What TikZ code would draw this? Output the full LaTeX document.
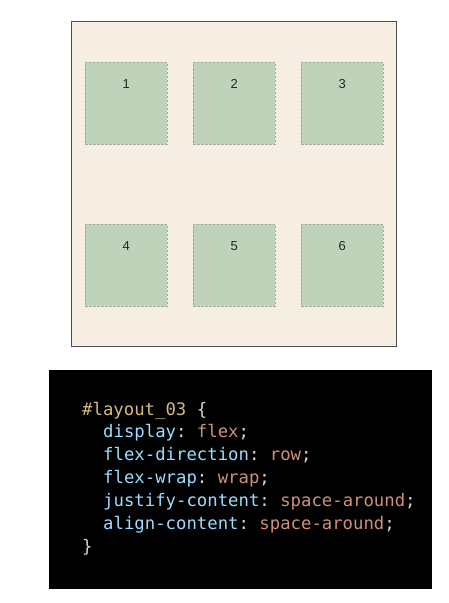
\documentclass[tikz,border=0pt]{standalone}
\usepackage{fontspec}
\setmainfont{Liberation Sans}
\newfontfamily\codefont{DejaVu Sans Mono}
\usetikzlibrary{positioning}
\definecolor{pagecolor}  {RGB}{246, 237, 227}
\definecolor{cellcolor}  {RGB}{191, 211, 186}
\definecolor{celledge}   {RGB}{160, 172, 155}
\definecolor{framecolor} {RGB}{ 80,  80,  80}
\definecolor{selcolor}   {RGB}{215, 186, 125}
\definecolor{propcolor}  {RGB}{156, 220, 254}
\definecolor{valcolor}   {RGB}{206, 145, 120}
\definecolor{punccolor}  {RGB}{212, 212, 212}
\newcommand{\cprop}[1]{\textcolor{propcolor}{#1}}
\newcommand{\cval}[1]{\textcolor{valcolor}{#1}}
\frenchspacing
\tikzset{
	container/.style={
		draw=framecolor, fill=pagecolor, line width=1pt
	},
	cellbox/.style={
		rectangle, anchor=north west, inner sep=0pt,
		minimum width=82pt, minimum height=82pt,
		fill=cellcolor, draw=celledge, line width=0.7pt,
		dash pattern=on 2.5pt off 1.5pt
	},
	celltag/.style={
		inner sep=0pt, font=\fontsize{13}{16}\selectfont, text=black!85
	},
	codebox/.style={
		fill=black, draw=black
	},
	codeline/.style={
		anchor=base west, inner sep=0pt,
		font=\codefont\fontsize{17.3}{20}\selectfont, text=punccolor
	}
}

\begin{document}
\begin{tikzpicture}[x=1pt, y=-1pt]
	\useasboundingbox (0,0) rectangle (449,603);
	
	%% ═══════════════════════════════
	%%  FLEX CONTAINER
	%% ═══════════════════════════════
	\draw[container] (71,21) rectangle (396,346);
	
	%% row 1
	\node[cellbox] (item1) at (85,62)  {};
	\node[cellbox] (item2) at (193,62) {};
	\node[cellbox] (item3) at (301,62) {};
	
	%% row 2
	\node[cellbox] (item4) at (85,224)  {};
	\node[cellbox] (item5) at (193,224) {};
	\node[cellbox] (item6) at (301,224) {};
	
	%% numbers
	\node[celltag, anchor=north, below=17pt of item1.north] (tag1) {1};
	\node[celltag, anchor=north, below=17pt of item2.north] (tag2) {2};
	\node[celltag, anchor=north, below=17pt of item3.north] (tag3) {3};
	\node[celltag, anchor=north, below=17pt of item4.north] (tag4) {4};
	\node[celltag, anchor=north, below=17pt of item5.north] (tag5) {5};
	\node[celltag, anchor=north, below=17pt of item6.north] (tag6) {6};
	
	%% ═══════════════════════════════
	%%  CSS SNIPPET
	%% ═══════════════════════════════
	\draw[codebox] (49,370) rectangle (431,588);
	
	\node[codeline] (sel)   at (82,415)  {\textcolor{selcolor}{\#layout\_03} \{};
	\node[codeline] (disp)  at (103,437) {\cprop{display}: \cval{flex};};
	\node[codeline] (fdir)  at (103,460) {\cprop{flex-direction}: \cval{row};};
	\node[codeline] (fwrap) at (103,483) {\cprop{flex-wrap}: \cval{wrap};};
	\node[codeline] (jcont) at (103,506) {\cprop{justify-content}: \cval{space-around};};
	\node[codeline] (acont) at (103,529) {\cprop{align-content}: \cval{space-around};};
	\node[codeline] (close) at (82,552)  {\}};
\end{tikzpicture}
\end{document}
